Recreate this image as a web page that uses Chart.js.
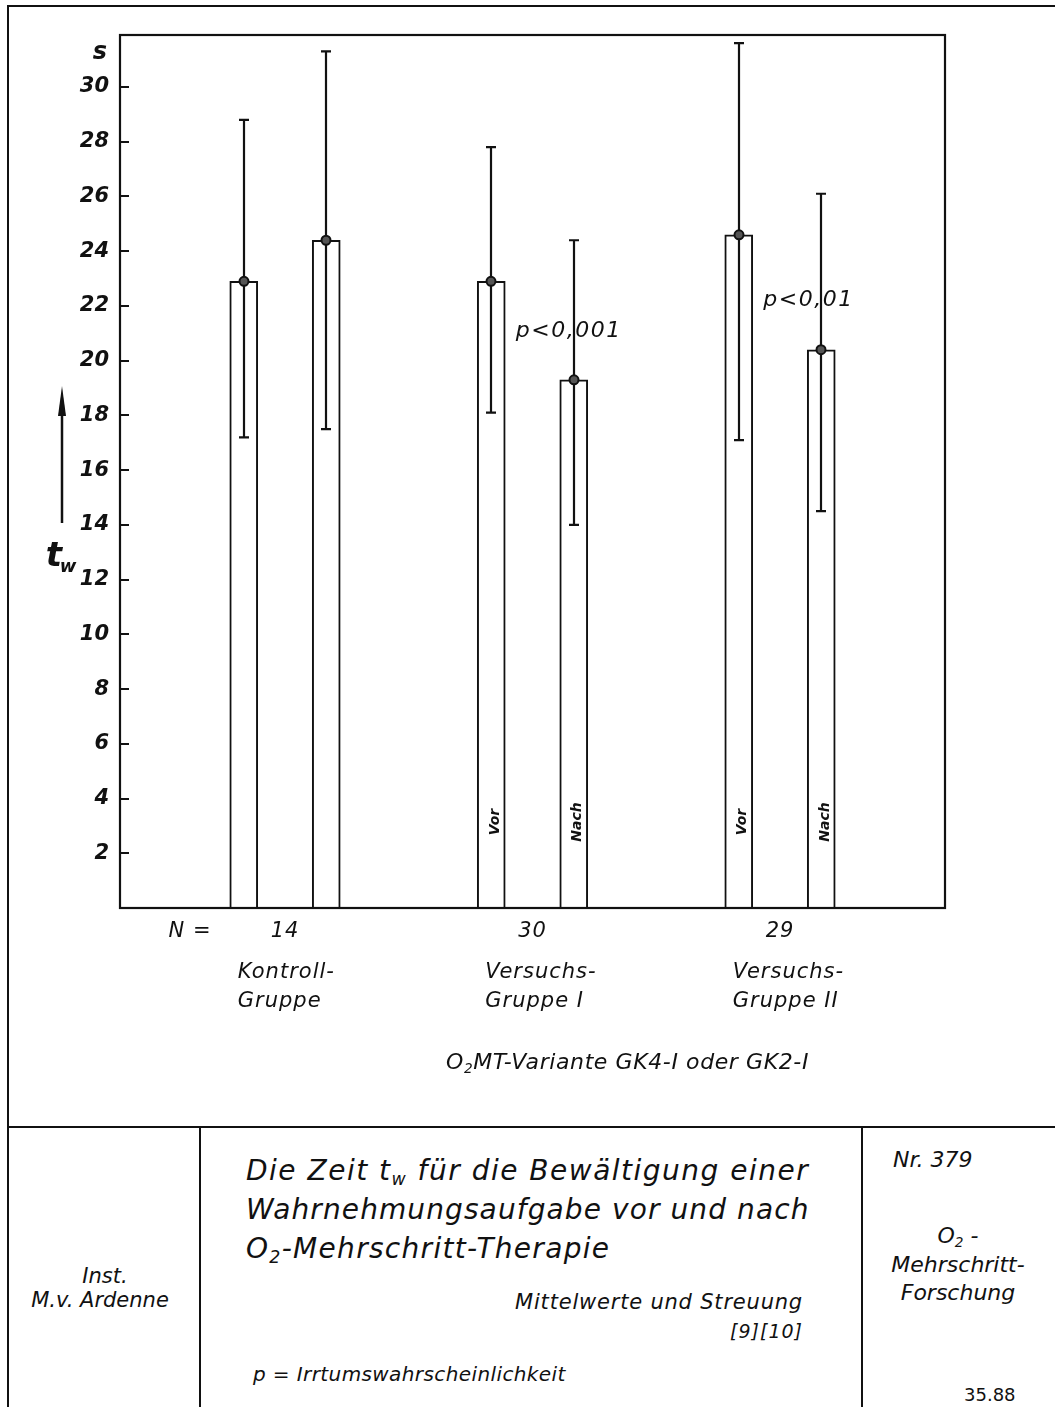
<!DOCTYPE html>
<html lang="de">
<head>
<meta charset="utf-8">
<title>Zeit t_w für die Bewältigung einer Wahrnehmungsaufgabe</title>
<script src="https://cdn.jsdelivr.net/npm/chart.js@4/dist/chart.umd.min.js"></script>
<style>
  html, body { margin: 0; padding: 0; background: #fff; }
  #sheet { position: relative; width: 1055px; height: 1407px; overflow: hidden; color: #111;
           font-family: "DejaVu Sans", sans-serif; font-style: italic; }
  #chart { position: absolute; left: 0; top: 0; }
  .rule { position: absolute; background: #111; }
  .t { position: absolute; white-space: nowrap; line-height: 1; }
  .t sub { font-size: 0.62em; vertical-align: -0.28em; line-height: 0; }
  .c { text-align: center; }
</style>
</head>
<body>
<div id="sheet">
  <canvas id="chart" width="1055" height="1125"></canvas>

  <!-- sheet frame and title block rules -->
  <div class="rule" style="left:7px;top:5px;width:1048px;height:2px"></div>
  <div class="rule" style="left:7px;top:5px;width:2px;height:1402px"></div>
  <div class="rule" style="left:7px;top:1126px;width:1048px;height:2px"></div>
  <div class="rule" style="left:199px;top:1126px;width:2px;height:281px"></div>
  <div class="rule" style="left:861px;top:1126px;width:2px;height:281px"></div>

  <div class="t" style="left:446px;top:1051px;font-size:22px;letter-spacing:0.6px">O<sub>2</sub>MT-Variante GK4-I oder GK2-I</div>

  <div class="t c" style="left:40px;width:130px;top:1266px;font-size:21px">Inst.</div>
  <div class="t c" style="left:10px;width:180px;top:1290px;font-size:21px">M.v. Ardenne</div>

  <div class="t" style="left:246px;top:1157px;font-size:28px;letter-spacing:1.5px">Die Zeit t<sub>w</sub> für die Bewältigung einer</div>
  <div class="t" style="left:246px;top:1196px;font-size:28px;letter-spacing:1.1px">Wahrnehmungsaufgabe vor und nach</div>
  <div class="t" style="left:246px;top:1235px;font-size:28px;letter-spacing:1.3px">O<sub>2</sub>-Mehrschritt-Therapie</div>
  <div class="t" style="right:252px;top:1292px;font-size:21px;letter-spacing:0.8px">Mittelwerte und Streuung</div>
  <div class="t" style="right:252px;top:1322px;font-size:19px;letter-spacing:1px">[9][10]</div>
  <div class="t" style="left:253px;top:1364px;font-size:20px;letter-spacing:0.4px">p = Irrtumswahrscheinlichkeit</div>

  <div class="t" style="left:893px;top:1149px;font-size:22px">Nr. 379</div>
  <div class="t c" style="left:870px;width:176px;top:1225px;font-size:22px">O<sub>2</sub> -</div>
  <div class="t c" style="left:870px;width:176px;top:1254px;font-size:22px">Mehrschritt-</div>
  <div class="t c" style="left:870px;width:176px;top:1282px;font-size:22px">Forschung</div>
  <div class="t" style="left:964px;top:1386px;font-size:18px;font-style:normal">35.88</div>
</div>

<script>
// Mean perception-task time t_w (s) with spread, before ("Vor") and after ("Nach")
const groupNames = [["Kontroll-", "Gruppe"], ["Versuchs-", "Gruppe I"], ["Versuchs-", "Gruppe II"]];
const groupN     = [14, 30, 29];
const vorMean    = [22.9, 22.9, 24.6];
const vorLow     = [17.2, 18.1, 17.1];
const vorHigh    = [28.8, 27.8, 31.6];
const nachMean   = [24.4, 19.3, 20.4];
const nachLow    = [17.5, 14.0, 14.5];
const nachHigh   = [31.3, 24.4, 26.1];
const barTags    = [null, ["Vor", "Nach"], ["Vor", "Nach"]];
const pNotes     = [null, "p<0,001", "p<0,01"];
const yTicks     = [2, 4, 6, 8, 10, 12, 14, 16, 18, 20, 22, 24, 26, 28, 30];

const INK = "#111";
// slot on the x axis: three slots per group, bars in the first two
const slot = (g, k) => g * 3 + 1 + k;

const barStyle = {
  backgroundColor: "#fff",
  borderColor: INK,
  borderWidth: 2,
  borderSkipped: "bottom",
  barThickness: 28
};

const sheetPlugin = {
  id: "sheet",
  beforeDatasetsDraw(chart) {
    const { ctx, scales: { x, y } } = chart;
    ctx.save();
    ctx.fillStyle = INK;
    ctx.font = 'italic 22px "DejaVu Sans"';
    ctx.letterSpacing = "1.5px";
    ctx.textBaseline = "middle";
    ctx.textAlign = "left";
    pNotes.forEach((t, g) => {
      if (!t) return;
      ctx.fillText(t, x.getPixelForValue(slot(g, 1)) - 58, y.getPixelForValue(nachMean[g]) - 49);
    });
    ctx.restore();
  },
  afterDatasetsDraw(chart) {
    const { ctx, chartArea: a, scales: { x, y } } = chart;
    ctx.save();
    ctx.strokeStyle = INK;
    ctx.fillStyle = INK;
    ctx.lineCap = "butt";

    // spread whiskers and mean markers (small ringed dots)
    const series = [[vorMean, vorLow, vorHigh], [nachMean, nachLow, nachHigh]];
    series.forEach(([m, lo, hi], k) => {
      m.forEach((v, g) => {
        const cx = Math.round(x.getPixelForValue(slot(g, k)));
        const yl = y.getPixelForValue(lo[g]);
        const yh = y.getPixelForValue(hi[g]);
        const ym = y.getPixelForValue(v);
        ctx.lineWidth = 2.2;
        ctx.beginPath();
        ctx.moveTo(cx, yl); ctx.lineTo(cx, yh);
        ctx.moveTo(cx - 5, yl); ctx.lineTo(cx + 5, yl);
        ctx.moveTo(cx - 5, yh); ctx.lineTo(cx + 5, yh);
        ctx.stroke();
        ctx.beginPath();
        ctx.arc(cx, ym, 4.5, 0, Math.PI * 2);
        ctx.fillStyle = "#555";
        ctx.fill();
        ctx.lineWidth = 2;
        ctx.stroke();
        ctx.fillStyle = INK;
      });
    });

    // rotated tags inside the bars
    ctx.font = 'italic bold 14px "DejaVu Sans"';
    ctx.textAlign = "center";
    ctx.textBaseline = "middle";
    barTags.forEach((tags, g) => {
      if (!tags) return;
      tags.forEach((t, k) => {
        ctx.save();
        ctx.translate(x.getPixelForValue(slot(g, k)) + 4, y.getPixelForValue(0) - 86);
        ctx.rotate(-Math.PI / 2);
        ctx.fillText(t, 0, 0);
        ctx.restore();
      });
    });

    // plot frame and inward tick marks
    ctx.lineWidth = 2.2;
    ctx.strokeRect(a.left, a.top, a.right - a.left, a.bottom - a.top);
    ctx.beginPath();
    yTicks.forEach(v => {
      const py = Math.round(y.getPixelForValue(v));
      ctx.moveTo(a.left, py); ctx.lineTo(a.left + 9, py);
    });
    ctx.stroke();

    // unit and axis symbol with arrow
    ctx.textAlign = "center";
    ctx.font = 'italic bold 24px "DejaVu Sans"';
    ctx.fillText("s", a.left - 20, a.top + 18);
    ctx.lineWidth = 2.5;
    ctx.beginPath();
    ctx.moveTo(a.left - 58, a.top + 488); ctx.lineTo(a.left - 58, a.top + 375);
    ctx.stroke();
    ctx.beginPath();
    ctx.moveTo(a.left - 58, a.top + 351);
    ctx.lineTo(a.left - 62, a.top + 381);
    ctx.lineTo(a.left - 54, a.top + 381);
    ctx.closePath();
    ctx.fill();
    ctx.font = 'italic bold 34px "DejaVu Sans"';
    ctx.fillText("t", a.left - 66, a.top + 522);
    ctx.font = 'italic bold 18px "DejaVu Sans"';
    ctx.fillText("w", a.left - 52, a.top + 532);

    // sample sizes and group names below the axis
    ctx.font = 'italic 21px "DejaVu Sans"';
    ctx.letterSpacing = "1px";
    const base = a.bottom;
    ctx.fillText("N =", a.left + 70, base + 24);
    groupN.forEach((n, g) => {
      ctx.textAlign = "center";
      ctx.fillText(String(n), x.getPixelForValue(slot(g, 0) + 0.5), base + 24);
      ctx.textAlign = "left";
      const lx = x.getPixelForValue(slot(g, 0)) - 6;
      ctx.fillText(groupNames[g][0], lx, base + 65);
      ctx.fillText(groupNames[g][1], lx, base + 94);
    });
    ctx.restore();
  }
};

new Chart(document.getElementById("chart"), {
  type: "bar",
  data: {
    datasets: [
      Object.assign({ label: "Vor",  data: vorMean.map((v, g) => ({ x: slot(g, 0), y: v })) }, barStyle),
      Object.assign({ label: "Nach", data: nachMean.map((v, g) => ({ x: slot(g, 1), y: v })) }, barStyle)
    ]
  },
  options: {
    responsive: false,
    animation: false,
    events: [],
    layout: { padding: { left: 0, top: 35, right: 110, bottom: 217 } },
    datasets: { bar: { grouped: false } },
    plugins: { legend: { display: false }, tooltip: { enabled: false }, colors: { enabled: false } },
    scales: {
      x: { type: "linear", min: -0.5, max: 9.5, offset: false, display: false },
      y: {
        min: 0, max: 31.9,
        afterFit: s => { s.width = 120; },
        grid: { display: false, drawTicks: false },
        border: { display: false },
        ticks: {
          stepSize: 2,
          padding: 11,
          color: INK,
          font: { family: "DejaVu Sans", style: "italic", weight: "bold", size: 21 },
          callback: v => (yTicks.includes(v) ? String(v) : "")
        }
      }
    }
  },
  plugins: [sheetPlugin]
});
</script>
</body>
</html>
